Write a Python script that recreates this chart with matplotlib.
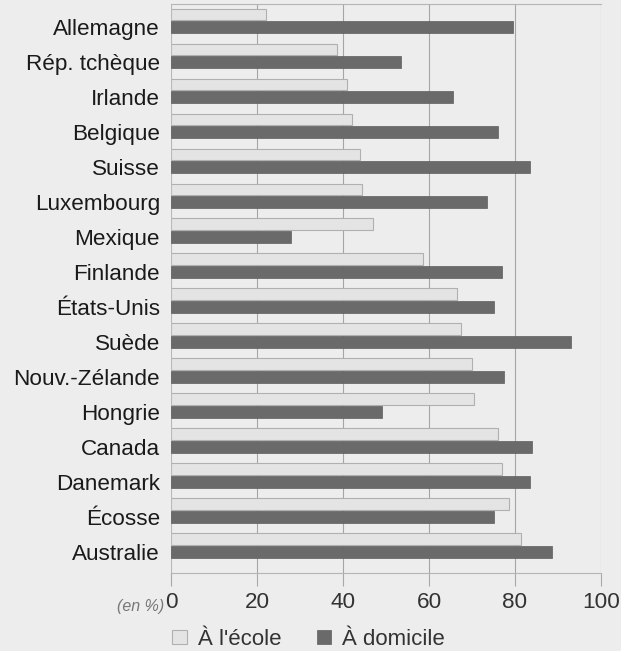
import matplotlib.pyplot as plt
import numpy as np

plt.rcParams['font.family'] = ['Liberation Sans', 'DejaVu Sans']

pays = ["Allemagne", "Rép. tchèque", "Irlande", "Belgique", "Suisse",
        "Luxembourg", "Mexique", "Finlande", "États-Unis", "Suède",
        "Nouv.-Zélande", "Hongrie", "Canada", "Danemark", "Écosse",
        "Australie"]
a_ecole = [22, 38.5, 41, 42, 44, 44.5, 47, 58.5, 66.5, 67.5,
           70, 70.5, 76, 77, 78.5, 81.5]
a_domicile = [79.5, 53.5, 65.5, 76, 83.5, 73.5, 28, 77, 75, 93,
              77.5, 49, 84, 83.5, 75, 88.5]
ticks = [0, 20, 40, 60, 80, 100]

bg = '#ededed'
fig = plt.figure(figsize=(6.21, 6.51), dpi=100, facecolor=bg)
ax = fig.add_axes([0.2754, 0.1198, 0.6924, 0.8741], facecolor=bg)

y = np.arange(len(pays))
h = 0.34
ax.barh(y - 0.36, a_ecole, height=h, color='#e4e4e4', edgecolor='#b0b0b0',
        linewidth=0.8, label="À l'école", zorder=2)
ax.barh(y, a_domicile, height=h, color='#6a6a6a', edgecolor='#5e5e5e',
        linewidth=0.5, label="À domicile", zorder=3)

ax.set_ylim(15.6, -0.66)
ax.set_xlim(0, 100)
ax.set_yticks(y)
ax.set_yticklabels(pays, fontsize=16.2, color='#1a1a1a')
ax.tick_params(axis='y', length=0, pad=8)
ax.set_xticks(ticks)
ax.set_xticklabels([str(t) for t in ticks], fontsize=16.2, color='#333333')
ax.tick_params(axis='x', length=9, width=0.8, color='#a8a8a8', pad=5)

ax.grid(axis='x', color='#a5a5a5', linewidth=0.8, zorder=1)
for side in ['top', 'bottom']:
    ax.spines[side].set_color('#b5b5b5')
    ax.spines[side].set_linewidth(0.8)
ax.spines['left'].set_color('#bcbcbc')
ax.spines['left'].set_linewidth(0.6)
ax.spines['right'].set_visible(False)

fig.text(0.265, 0.069, "(en %)", fontsize=11.5, style='italic', color='#777777',
         ha='right', va='center')

fig.legend(loc='center', bbox_to_anchor=(0.497, 0.018), ncol=2, frameon=False,
           fontsize=16, handlelength=0.65, handleheight=0.65, handletextpad=0.5,
           columnspacing=1.6, labelcolor='#333333')

fig.savefig('out.png', dpi=100, facecolor=bg)
